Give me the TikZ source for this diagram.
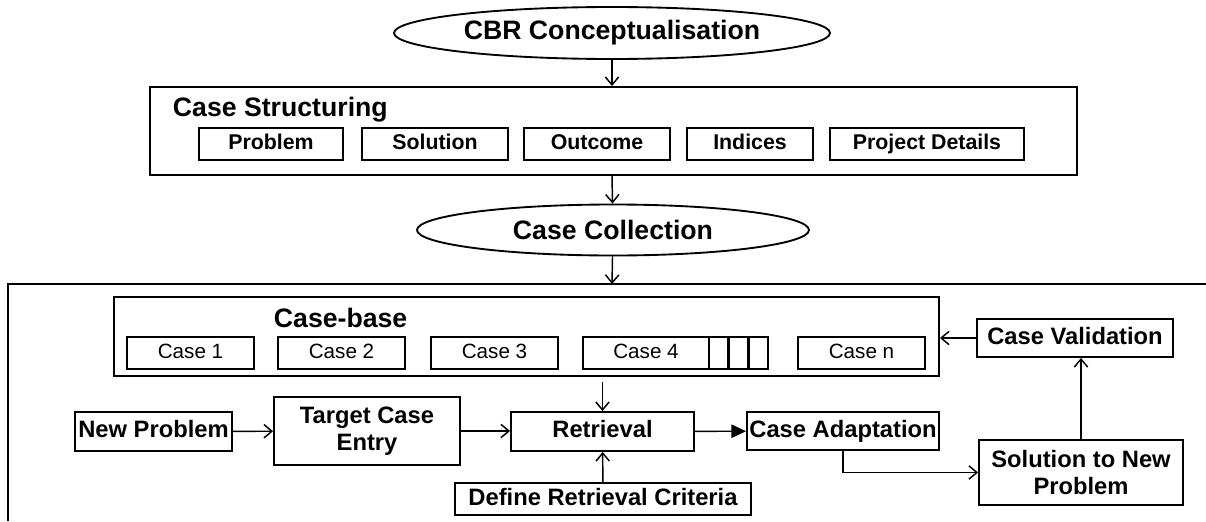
\documentclass[tikz,border=0pt]{standalone}
\usepackage{fontspec}
\setmainfont{Liberation Sans}
\usetikzlibrary{shapes.geometric,arrows.meta,positioning,calc}

\begin{document}
\begin{tikzpicture}[x=0.75pt, y=-0.75pt, line width=1.4pt,
	oval/.style={draw, ellipse, inner sep=0pt, font=\fontsize{20}{24}\selectfont\bfseries},
	frame/.style={draw, rectangle, inner sep=0pt},
	field/.style={draw, rectangle, inner sep=0pt, minimum height=24pt, text height=11.5pt, text depth=3.4pt, font=\fontsize{16}{19}\selectfont\bfseries},
	casebox/.style={draw, rectangle, inner sep=0pt, minimum width=95.25pt, minimum height=24pt, text height=11.2pt, text depth=3.3pt, font=\fontsize{15.5}{18}\selectfont},
	stage/.style={draw, rectangle, inner sep=0pt, text height=12.8pt, text depth=3.7pt, font=\fontsize{17.8}{25}\selectfont\bfseries},
	stage2/.style={draw, rectangle, inner sep=0pt, align=center, font=\fontsize{17.8}{20.5}\selectfont\bfseries},
	title/.style={anchor=base west, inner sep=0pt, font=\fontsize{20}{24}\selectfont\bfseries},
	link/.style={line width=1.1pt, -{Straight Barb[length=6pt,width=10pt]}},
	]
	\useasboundingbox (0,0) rectangle (1206,521);

	% top part
	\node[oval, minimum width=327pt, minimum height=39pt] (cbr) at (612,33) {CBR Conceptualisation};
	\node[frame, minimum width=695.25pt, minimum height=66pt] (struct) at (613.5,131) {};
	\node[title] (structtitle) at (172,116) {Case Structuring};
	\node[field, minimum width=108pt] (prob) at (271,144) {Problem};
	\node[field, minimum width=109.5pt] (sol) at (435,144) {Solution};
	\node[field, minimum width=109.5pt] (outc) at (597,144) {Outcome};
	\node[field, minimum width=94.5pt] (idx) at (750,144) {Indices};
	\node[field, minimum width=145.5pt] (proj) at (927,144) {Project Details};
	\node[oval, minimum width=294pt, minimum height=38.25pt] (coll) at (613,230) {Case Collection};

	\draw[link] (cbr) -- (cbr |- struct.north);
	\draw[link] (struct.south -| cbr) -- (coll);

	% outer frame, open to the right and bottom
	\coordinate (frametop) at (612,284);
	\draw (1206,284) -- (frametop) -- (8,284) -- (8,521);
	\draw[link] (coll) -- (frametop);

	% case-base
	\node[frame, minimum width=618.75pt, minimum height=59.25pt] (cbase) at (526.5,336.5) {};
	\node[title] (cbasetitle) at (273,327) {Case-base};
	\node[casebox] (case1) at (190.5,353) {Case 1};
	\node[casebox] (case2) at (341.5,353) {Case 2};
	\node[casebox] (case3) at (494.5,353) {Case 3};
	\node[casebox, minimum width=94.5pt] (case4) at (646,353) {Case 4};
	\foreach \i/\x in {1/718.5, 2/738.5, 3/758.5}
		\node[casebox, minimum width=14.25pt] (more\i) at (\x,353) {};
	\node[casebox] (casen) at (861.5,353) {Case n};

	% cycle
	\node[stage, minimum width=147pt, minimum height=28.5pt] (valid) at (1075,338) {Case Validation};
	\node[stage, minimum width=117.75pt, minimum height=29.25pt] (newprob) at (153.5,431.5) {New Problem};
	\node[stage2, minimum width=139.5pt, minimum height=51pt] (target) at (367,431) {Target Case\\Entry};
	\node[stage, minimum width=137.25pt, minimum height=29.25pt] (retr) at (602.5,431.5) {Retrieval};
	\node[stage, minimum width=144pt, minimum height=28.5pt] (adapt) at (843,431) {Case Adaptation};
	\node[stage, minimum width=222pt, minimum height=24pt] (crit) at (603,499) {Define Retrieval Criteria};
	\node[stage2, minimum width=153pt, minimum height=48.75pt] (solnew) at (1081,472.5) {Solution to New\\Problem};

	\draw[link] (valid.west) -- (valid.west -| cbase.east);
	\draw[link, shorten <=4pt] (cbase.south -| retr.north) -- (retr.north);
	\draw[link] (newprob) -- (target);
	\draw[link] (target) -- (retr.west |- target);
	\draw[line width=1.1pt, -{Triangle[length=11pt,width=10pt]}] (retr) -- (adapt);
	\draw[link] (crit) -- (retr);
	\draw[link] (adapt.south) |- (solnew.west);
	\draw[link] (solnew.north) -- (solnew.north |- valid.south);
\end{tikzpicture}
\end{document}
